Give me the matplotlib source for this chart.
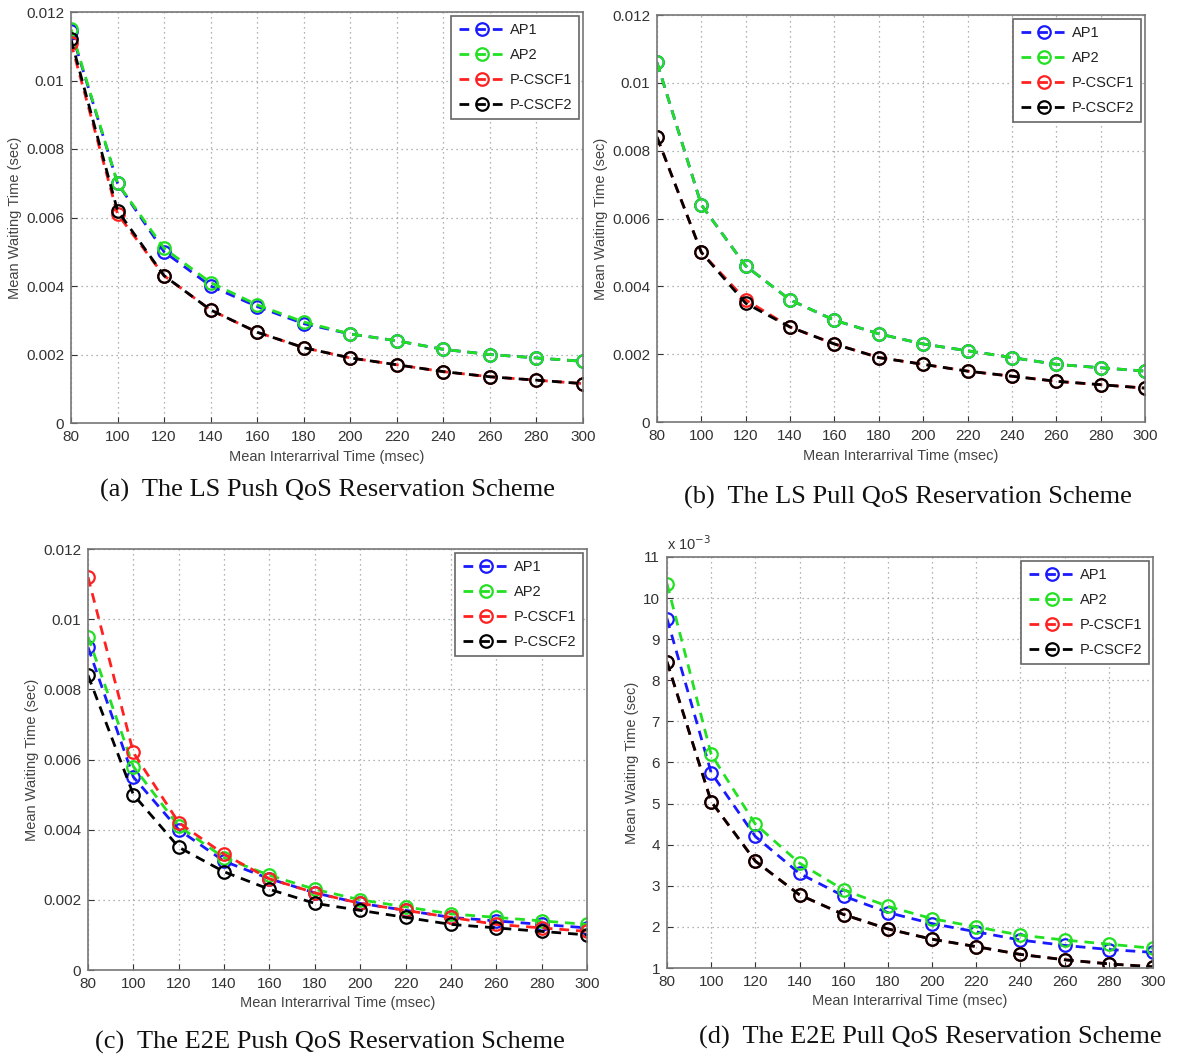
import matplotlib
matplotlib.use("Agg")
import matplotlib.pyplot as plt
import numpy as np

x = [80, 100, 120, 140, 160, 180, 200, 220, 240, 260, 280, 300]
series_names = ["AP1", "AP2", "P-CSCF1", "P-CSCF2"]

# (a) LS Push
a_ap1 = [0.01145, 0.0070, 0.0050, 0.0040, 0.0034, 0.0029, 0.0026, 0.0024, 0.00215, 0.0020, 0.0019, 0.0018]
a_ap2 = [0.01150, 0.0070, 0.0051, 0.0041, 0.00345, 0.00295, 0.0026, 0.0024, 0.00215, 0.0020, 0.0019, 0.0018]
a_p1 = [0.0111, 0.0061, 0.0043, 0.0033, 0.00265, 0.0022, 0.0019, 0.0017, 0.0015, 0.00135, 0.00125, 0.00115]
a_p2 = [0.0112, 0.0062, 0.0043, 0.0033, 0.00265, 0.0022, 0.0019, 0.0017, 0.0015, 0.00135, 0.00125, 0.00115]

# (b) LS Pull
b_ap1 = [0.0106, 0.0064, 0.0046, 0.0036, 0.0030, 0.0026, 0.0023, 0.0021, 0.0019, 0.0017, 0.0016, 0.0015]
b_ap2 = [0.0106, 0.0064, 0.0046, 0.0036, 0.0030, 0.0026, 0.0023, 0.0021, 0.0019, 0.0017, 0.0016, 0.0015]
b_p1 = [0.0084, 0.0050, 0.0036, 0.0028, 0.0023, 0.0019, 0.0017, 0.0015, 0.00135, 0.0012, 0.0011, 0.0010]
b_p2 = [0.0084, 0.0050, 0.0035, 0.0028, 0.0023, 0.0019, 0.0017, 0.0015, 0.00135, 0.0012, 0.0011, 0.0010]

# (c) E2E Push
c_ap1 = [0.0092, 0.0055, 0.0040, 0.0031, 0.0026, 0.0022, 0.0019, 0.0017, 0.0015, 0.0014, 0.0013, 0.0012]
c_ap2 = [0.0095, 0.0058, 0.0041, 0.0032, 0.0027, 0.0023, 0.0020, 0.0018, 0.0016, 0.0015, 0.0014, 0.0013]
c_p1 = [0.0112, 0.0062, 0.0042, 0.0033, 0.0026, 0.0022, 0.0019, 0.0017, 0.0015, 0.0013, 0.0012, 0.0011]
c_p2 = [0.0084, 0.0050, 0.0035, 0.0028, 0.0023, 0.0019, 0.0017, 0.0015, 0.0013, 0.0012, 0.0011, 0.0010]

# (d) E2E Pull
d_ap1 = [0.00950, 0.00575, 0.00420, 0.00330, 0.00275, 0.00235, 0.00208, 0.00188, 0.00168, 0.00155, 0.00145, 0.00138]
d_ap2 = [0.01035, 0.00620, 0.00450, 0.00355, 0.00290, 0.00250, 0.00220, 0.00200, 0.00180, 0.00168, 0.00158, 0.00148]
d_p1 = [0.00845, 0.00505, 0.00360, 0.00278, 0.00230, 0.00195, 0.00170, 0.00152, 0.00133, 0.00120, 0.00110, 0.00103]
d_p2 = [0.00845, 0.00505, 0.00360, 0.00278, 0.00230, 0.00195, 0.00170, 0.00152, 0.00133, 0.00120, 0.00110, 0.00103]

captions = ["(a)  The LS Push QoS Reservation Scheme",
            "(b)  The LS Pull QoS Reservation Scheme",
            "(c)  The E2E Push QoS Reservation Scheme",
            "(d)  The E2E Pull QoS Reservation Scheme"]

colors = ["#1a1aff", "#22e022", "#ff2020", "#000000"]

W, H = 1178, 1059
fig = plt.figure(figsize=(W / 100, H / 100), dpi=100)
plt.rcParams['font.family'] = ['Liberation Sans', 'DejaVu Sans']

def fpos(l, r, t, b):
    return [l / W, 1 - b / H, (r - l) / W, (b - t) / H]

panels = [
    dict(pos=fpos(71, 583, 12, 423), data=[a_ap1, a_ap2, a_p1, a_p2], ylim=(0, 0.012),
         yticks=[0, 0.002, 0.004, 0.006, 0.008, 0.01, 0.012], ylabels=["0", "0.002", "0.004", "0.006", "0.008", "0.01", "0.012"],
         cap=(327, 490)),
    dict(pos=fpos(657, 1145, 15, 422), data=[b_ap1, b_ap2, b_p1, b_p2], ylim=(0, 0.012),
         yticks=[0, 0.002, 0.004, 0.006, 0.008, 0.01, 0.012], ylabels=["0", "0.002", "0.004", "0.006", "0.008", "0.01", "0.012"],
         cap=(908, 497)),
    dict(pos=fpos(88, 587, 549, 970), data=[c_ap1, c_ap2, c_p1, c_p2], ylim=(0, 0.012),
         yticks=[0, 0.002, 0.004, 0.006, 0.008, 0.01, 0.012], ylabels=["0", "0.002", "0.004", "0.006", "0.008", "0.01", "0.012"],
         cap=(330, 1042)),
    dict(pos=fpos(667, 1153, 557, 968), data=[d_ap1, d_ap2, d_p1, d_p2], ylim=(0.001, 0.011),
         yticks=[0.001 * k for k in range(1, 12)], ylabels=[str(k) for k in range(1, 12)],
         cap=(930, 1037)),
]

tick_col = "#333333"
for i, p in enumerate(panels):
    ax = fig.add_axes(p["pos"])
    for name, ys, c in zip(series_names, p["data"], colors):
        ax.plot(x, ys, linestyle=(0, (3.5, 2.5)), color=c, linewidth=2.0,
                marker="o", markersize=9, markerfacecolor="none", markeredgewidth=1.6,
                label=name)
    ax.set_xlim(80, 300)
    ax.set_ylim(*p["ylim"])
    ax.set_xticks(x)
    ax.set_xticklabels([str(v) for v in x])
    ax.set_yticks(p["yticks"])
    ax.set_yticklabels(p["ylabels"])
    ax.grid(True, linestyle=(0, (1, 3)), color="#999999", linewidth=0.9)
    ax.tick_params(direction="in", length=4, labelsize=11, colors=tick_col)
    ax.tick_params(axis="x", pad=5)
    ax.tick_params(axis="y", pad=5)
    for s in ax.spines.values():
        s.set_color("#777777")
        s.set_linewidth(1.2)
    ax.set_xlabel("Mean Interarrival Time (msec)", fontsize=10.5, color="#444444", labelpad=4)
    ax.set_ylabel("Mean Waiting Time (sec)", fontsize=10.5, color="#444444", labelpad=3)
    leg = ax.legend(loc="upper right", fontsize=10.5, handlelength=3.2, handletextpad=0.3,
                    borderaxespad=0.25, fancybox=False, framealpha=1, edgecolor="#666666",
                    labelspacing=0.75, borderpad=0.5)
    leg.get_frame().set_linewidth(1.2)
    for t in leg.get_texts():
        t.set_color("#222222")
    if i == 3:
        ax.text(0.0, 1.01, r"x 10$^{-3}$", transform=ax.transAxes, fontsize=10.5,
                color="#333333", ha="left", va="bottom")
    cx, cy = p["cap"]
    fig.text(cx / W, 1 - cy / H, captions[i], ha="center", va="center",
             fontsize=19, family=["Liberation Serif", "DejaVu Serif"], color="#111111")

fig.savefig("out.png", dpi=100)
